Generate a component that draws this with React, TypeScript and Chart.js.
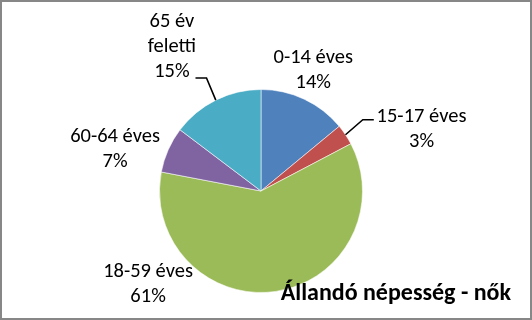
import React, { useEffect, useRef } from 'react';
import { Chart, registerables } from 'chart.js';

Chart.register(...registerables);

// ---- data ----
const categories = ['0-14 éves', '15-17 éves', '18-59 éves', '60-64 éves', '65 év feletti'];
const shares = [14.0, 3.3, 60.7, 7.3, 14.7];
const sliceColors = ['#4F81BD', '#C0504D', '#9BBB59', '#8064A2', '#4BACC6'];
const chartTitle = 'Állandó népesség - nők';

// ---- label layout (polar, relative to the pie) ----
const labelAngles = [23.5, 68.9, 230.4, 285.9, 328.2]; // degrees clockwise from 12 o'clock
const labelDistances = [1.291, 1.695, 1.444, 1.495, 1.666]; // multiples of radius
const labelWrap = [120, 120, 120, 120, 70];
const leaderEnds: (number[] | null)[] = [null, [-47.7, -9.3], null, null, [23.6, 30.7]];

const LABEL_FONT = '20.5px Carlito, Lato, sans-serif';
const TITLE_FONT = 'bold 24px Carlito, Lato, sans-serif';
const LINE_H = 25;

function wrapText(ctx: CanvasRenderingContext2D, text: string, maxW: number): string[] {
  const words = text.split(' ');
  const lines: string[] = [];
  let cur = '';
  for (const w of words) {
    const test = cur ? cur + ' ' + w : w;
    if (cur && ctx.measureText(test).width > maxW) {
      lines.push(cur);
      cur = w;
    } else cur = test;
  }
  if (cur) lines.push(cur);
  return lines;
}

const labelPlugin = {
  id: 'pieLabels',
  afterDatasetsDraw(chart: any) {
    const ctx: CanvasRenderingContext2D = chart.ctx;
    const meta = chart.getDatasetMeta(0);
    const data: number[] = chart.data.datasets[0].data;
    const total = data.reduce((a, b) => a + b, 0);
    ctx.save();
    ctx.font = LABEL_FONT;
    ctx.fillStyle = '#000';
    ctx.strokeStyle = '#000';
    ctx.lineWidth = 1.6;
    meta.data.forEach((arc: any, i: number) => {
      const { x, y, outerRadius, startAngle, endAngle } = arc.getProps(
        ['x', 'y', 'outerRadius', 'startAngle', 'endAngle'],
        true
      );
      const a = ((labelAngles[i] - 90) * Math.PI) / 180;
      const cx = x + outerRadius * labelDistances[i] * Math.cos(a);
      const cy = y + outerRadius * labelDistances[i] * Math.sin(a);
      const pct = Math.round((data[i] / total) * 100) + '%';
      const lines = [...wrapText(ctx, chart.data.labels[i], labelWrap[i]), pct];
      ctx.textAlign = 'center';
      ctx.textBaseline = 'middle';
      lines.forEach((ln, k) => {
        ctx.fillText(ln, cx, cy - ((lines.length - 1) * LINE_H) / 2 + k * LINE_H);
      });
      const le = leaderEnds[i];
      if (le) {
        const mid = (startAngle + endAngle) / 2;
        const sx = x + outerRadius * Math.cos(mid);
        const sy = y + outerRadius * Math.sin(mid);
        const ex = cx + le[0];
        const ey = cy + le[1];
        const bx = ex + Math.sign(le[0]) * 11;
        ctx.beginPath();
        ctx.moveTo(sx, sy);
        ctx.lineTo(bx, ey);
        ctx.lineTo(ex, ey);
        ctx.stroke();
      }
    });
    // title
    ctx.font = TITLE_FONT;
    ctx.textAlign = 'right';
    ctx.textBaseline = 'alphabetic';
    ctx.fillText(chartTitle, 511, 300);
    ctx.restore();
  },
  afterDraw(chart: any) {
    const ctx: CanvasRenderingContext2D = chart.ctx;
    ctx.save();
    ctx.strokeStyle = '#878787';
    ctx.lineWidth = 2;
    ctx.strokeRect(1, 1, chart.width - 2, chart.height - 2);
    ctx.restore();
  },
};

export default function App() {
  const ref = useRef<HTMLCanvasElement>(null);
  useEffect(() => {
    document.body.style.margin = '0';
    const chart = new Chart(ref.current!, {
      type: 'pie',
      data: {
        labels: categories,
        datasets: [
          {
            data: shares,
            backgroundColor: sliceColors,
            borderColor: 'rgba(255,255,255,0.55)',
            borderWidth: 1,
          },
        ],
      },
      options: {
        responsive: false,
        animation: false,
        layout: { padding: { left: 159, right: 169, top: 89, bottom: 27 } },
        plugins: {
          legend: { display: false },
          tooltip: { enabled: false },
          title: { display: false },
        },
      },
      plugins: [labelPlugin],
    });
    return () => chart.destroy();
  }, []);
  return <canvas ref={ref} width={532} height={320} style={{ display: 'block' }} />;
}
